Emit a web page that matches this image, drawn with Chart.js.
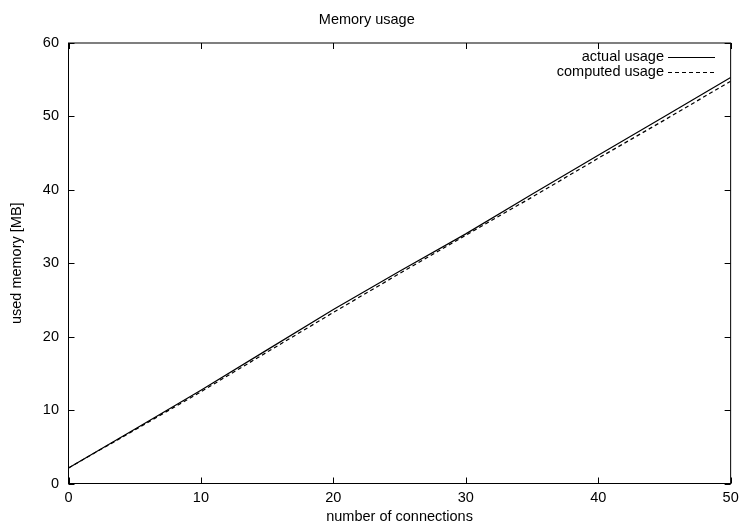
<!DOCTYPE html>
<html>
<head>
<meta charset="utf-8">
<title>Memory usage</title>
<script src="https://cdn.jsdelivr.net/npm/chart.js@4.4.1/dist/chart.umd.min.js"></script>
<style>
    html, body { margin: 0; padding: 0; background: #fff; }
    canvas { display: block; }
</style>
</head>
<body>
<canvas id="memChart" width="744" height="526"></canvas>
<script>

const connections = [0, 5, 10, 15, 20, 25, 30, 35, 40, 45, 50];
const actualUsage = [2.1, 7.4, 12.7, 18.2, 23.7, 28.9, 34.0, 39.4, 44.7, 50.0, 55.3];
const computedUsage = [2.1, 7.3, 12.5, 17.9, 23.3, 28.6, 33.8, 39.0, 44.3, 49.5, 54.8];
const xTicks = [0, 10, 20, 30, 40, 50];
const yTicks = [0, 10, 20, 30, 40, 50, 60];

const FONT = "'Liberation Sans', Arial, Helvetica, sans-serif";
const FONT_SIZE = 14.5;

// gnuplot style: frame all round + ticks pointing inward on every side
const framePlugin = {
    id: "frame",
    afterDatasetsDraw(chart){
        const ctx = chart.ctx;
        const area = chart.chartArea;
        const xs = chart.scales.x;
        const ys = chart.scales.y;
        const tick = 6;

        ctx.save();
        ctx.strokeStyle = "#000";
        ctx.lineWidth = 1;
        ctx.beginPath();
        xTicks.forEach(v => {
            const px = Math.round(xs.getPixelForValue(v)) + 0.5;
            ctx.moveTo(px, area.bottom); ctx.lineTo(px, area.bottom - tick);
            ctx.moveTo(px, area.top); ctx.lineTo(px, area.top + tick);
        });
        yTicks.forEach(v => {
            const py = Math.round(ys.getPixelForValue(v)) + 0.5;
            ctx.moveTo(area.left, py); ctx.lineTo(area.left + tick, py);
            ctx.moveTo(area.right, py); ctx.lineTo(area.right - tick, py);
        });
        ctx.stroke();
        ctx.strokeRect(area.left, area.top, area.right - area.left, area.bottom - area.top);

        // key, top right, text right aligned then the line sample
        ctx.font = FONT_SIZE + "px " + FONT;
        ctx.fillStyle = "#000";
        ctx.textAlign = "right";
        ctx.textBaseline = "middle";
        chart.data.datasets.forEach((ds, i) => {
            const y = 57 + i * 15;
            ctx.fillText(ds.label, 664, y);
            ctx.beginPath();
            ctx.setLineDash(ds.borderDash || []);
            ctx.lineWidth = ds.borderWidth;
            ctx.moveTo(668, y + 0.5);
            ctx.lineTo(715, y + 0.5);
            ctx.stroke();
        });
        ctx.restore();
    }
};

const ctx = document.getElementById("memChart");

const memChart = new Chart(ctx, {
    type: "line",
    data: {
        labels: connections,
        datasets: [{
            label: "actual usage",
            data: actualUsage,
            borderColor: "#000",
            borderWidth: 1.2,
            pointRadius: 0,
            tension: 0
        }, {
            label: "computed usage",
            data: computedUsage,
            borderColor: "#000",
            borderWidth: 1.2,
            borderDash: [4, 3],
            pointRadius: 0,
            tension: 0
        }]
    },
    options: {
        responsive: false,
        animation: false,
        devicePixelRatio: 1,
        layout: { padding: { left: 0, right: 10.5, top: 0, bottom: 0 } },
        plugins: {
            legend: { display: false },
            tooltip: { enabled: false },
            title: {
                display: true,
                text: "Memory usage",
                color: "#000",
                font: { family: FONT, size: FONT_SIZE, weight: "normal" },
                padding: { top: 11.3, bottom: 14.3 }
            }
        },
        scales: {
            x: {
                type: "linear",
                min: 0,
                max: 50,
                grid: { display: false, drawTicks: false },
                border: { display: false },
                afterFit(scale){ scale.height = 42.5; },
                afterBuildTicks(scale){ scale.ticks = xTicks.map(v => ({ value: v })); },
                ticks: {
                    color: "#000",
                    padding: 5.3,
                    maxRotation: 0,
                    font: { family: FONT, size: FONT_SIZE }
                },
                title: {
                    display: true,
                    text: "number of connections",
                    color: "#000",
                    font: { family: FONT, size: FONT_SIZE },
                    padding: { top: 0, bottom: 0 }
                }
            },
            y: {
                min: 0,
                max: 60,
                grid: { display: false, drawTicks: false },
                border: { display: false },
                afterFit(scale){ scale.width = 68.5; },
                afterBuildTicks(scale){ scale.ticks = yTicks.map(v => ({ value: v })); },
                ticks: {
                    color: "#000",
                    padding: 9.5,
                    font: { family: FONT, size: FONT_SIZE }
                },
                title: {
                    display: true,
                    text: "used memory [MB]",
                    color: "#000",
                    font: { family: FONT, size: FONT_SIZE },
                    padding: { top: 8.3, bottom: 0 }
                }
            }
        }
    },
    plugins: [framePlugin]
});
</script>
</body>
</html>
